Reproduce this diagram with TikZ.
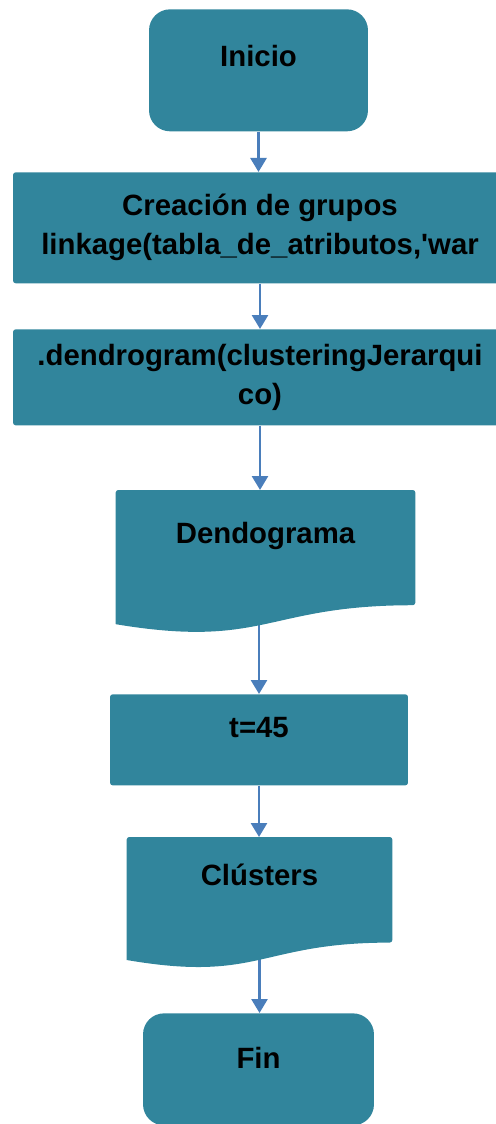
\documentclass[tikz,border=0pt]{standalone}
\usepackage{fontspec}
\setmainfont{Liberation Sans}
\usetikzlibrary{arrows.meta,backgrounds,calc}
\definecolor{petroleo}{HTML}{31859C}
\definecolor{azulflecha}{HTML}{4A7EBB}

\begin{document}
\begin{tikzpicture}[x=0.02cm, y=-0.02cm,
  texto/.style={font=\bfseries\fontsize{16.7}{22.2}\selectfont, align=center, text=black},
  caja/.style={texto, rectangle, fill=petroleo, rounded corners=1.5pt, inner sep=0pt},
  terminal/.style={caja, rounded corners=0.42cm},
  doc/.style={texto, rectangle, inner sep=0pt},
  flecha/.style={draw=azulflecha, line width=1.5pt, -{Triangle[width=0.32cm,length=0.28cm]}}]
\useasboundingbox (0,0) rectangle (496,1124);

% pasos del proceso
\node[terminal, minimum width=4.38cm, text height=1.14cm, text depth=1.3cm, anchor=north] (inicio) at (258.5,9) {Inicio};
\node[caja, minimum width=9.88cm, minimum height=2.22cm, anchor=north] (crea) at (260,172) {Creación de grupos\\linkage(tabla\_de\_atributos,\textquotesingle war};
\node[caja, minimum width=9.88cm, minimum height=1.92cm, anchor=north] (dend) at (260,329) {.dendrogram(clusteringJerarqui\\co)};
\node[doc, minimum width=5.98cm, text height=1.06cm, text depth=1.8cm, anchor=north] (dendo) at (265.5,490) {Dendograma};
\node[caja, minimum width=5.96cm, text height=0.86cm, text depth=0.96cm, anchor=north] (t45) at (259,694) {t=45};
\node[doc, minimum width=5.3cm, text height=0.96cm, text depth=1.66cm, anchor=north] (clus) at (259.5,837) {Clústers};
\node[terminal, minimum width=4.62cm, text height=1.1cm, text depth=1.14cm, anchor=north] (fin) at (258.5,1013) {Fin};

\begin{scope}[on background layer]
% flechas
\draw[flecha] (inicio.south) -- (inicio.south |- crea.north);
\draw[flecha] (crea.south) -- (crea.south |- dend.north);
\draw[flecha] (dend.south) -- (dend.south |- dendo.north);
\draw[flecha] (t45.north |- dendo.center) -- (t45.north);
\draw[flecha] (t45.south) -- (t45.south |- clus.north);
\draw[flecha] (clus.center) -- (clus.center |- fin.north);
% forma de documento (borde inferior ondulado)
\foreach \d in {dendo,clus}
  \fill[petroleo, rounded corners=1.5pt] (\d.north west) -- (\d.north east)
    -- ($(\d.north east)!0.802!(\d.south east)$) [sharp corners]
    .. controls ($(\d.north)!0.802!(\d.south)$) and ($(\d.north)!1.1075!(\d.south)$)
    .. ($(\d.north west)!0.934!(\d.south west)$) [rounded corners=1.5pt] -- cycle;
\end{scope}
\end{tikzpicture}
\end{document}
